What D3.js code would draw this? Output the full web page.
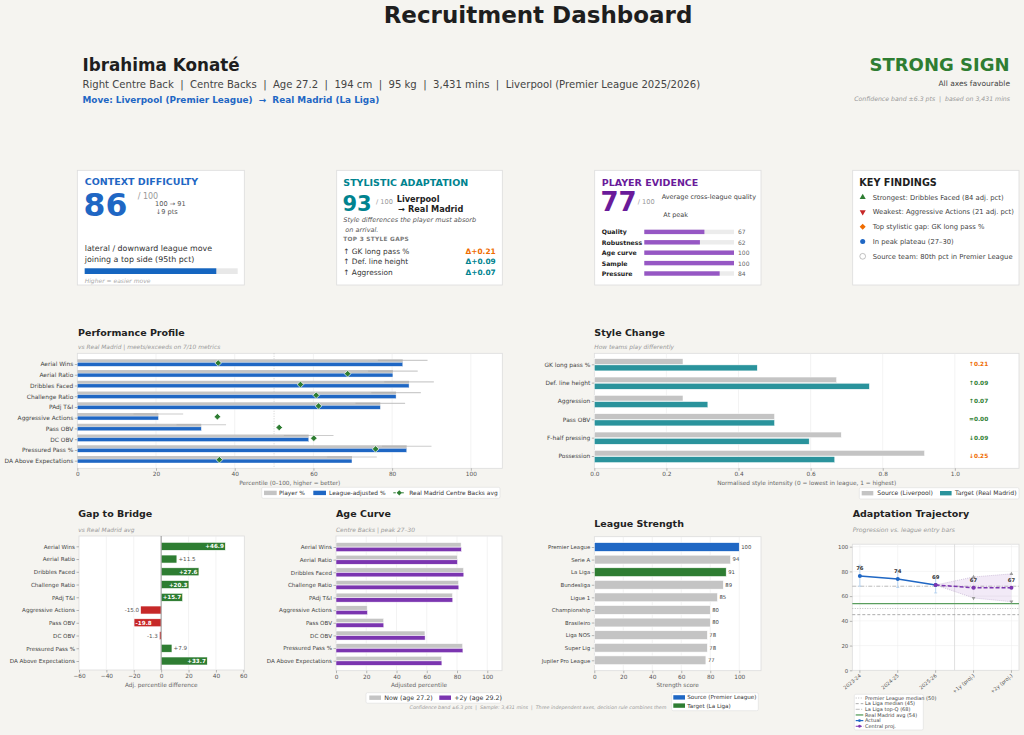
<!DOCTYPE html>
<html>
<head>
<meta charset="utf-8">
<script src="https://cdn.jsdelivr.net/npm/d3@7"></script>
<style>
  body { margin: 0; background: #f5f4f0; }
  svg { display: block; font-family: "DejaVu Sans", sans-serif; }
  text { white-space: pre; }
</style>
</head>
<body>
<div id="dashboard"></div>
<script>
// ---- data ----
var metrics = ["Aerial Wins", "Aerial Ratio", "Dribbles Faced", "Challenge Ratio", "PAdj T&I",
    "Aggressive Actions", "Pass OBV", "DC OBV", "Pressured Pass %", "DA Above Expectations"];
var playerPct = [82.7, 80.2, 84.3, 81.0, 77.0, 20.6, 31.5, 58.8, 83.7, 69.8];
var adjustedPct = [82.7, 80.2, 84.3, 81.0, 77.0, 20.6, 31.5, 58.8, 83.7, 69.8];
var targetAvg = [35.8, 68.7, 56.7, 60.7, 61.3, 35.6, 51.3, 60.1, 75.8, 36.1];
var confBand = 6.3;
var gapValues = [46.9, 11.5, 27.6, 20.3, 15.7, -15.0, -19.8, -1.3, 7.9, 33.7];
var ageNow = [82.7, 80.2, 84.3, 81.0, 77.0, 20.6, 31.5, 58.8, 83.7, 69.8];
var agePlus2 = [82.9, 80.3, 84.5, 81.2, 77.2, 20.8, 31.6, 58.9, 83.9, 70.0];

var styleMetrics = ["GK long pass %", "Def. line height", "Aggression", "Pass OBV", "F-half pressing", "Possession"];
var sourceStyle = [0.246, 0.672, 0.246, 0.500, 0.685, 0.916];
var targetStyle = [0.452, 0.763, 0.315, 0.500, 0.596, 0.667];
var styleDeltaLabels = ["↑0.21", "↑0.09", "↑0.07", "=0.00", "↓0.09", "↓0.25"];
var styleDeltaBig = [true, false, false, false, false, true];

var leagues = ["Premier League", "Serie A", "La Liga", "Bundesliga", "Ligue 1", "Championship",
    "Brasileiro", "Liga NOS", "Super Lig", "Jupiler Pro League"];
var leagueStrength = [100, 94, 91, 89, 85, 80, 80, 78, 78, 77];

var seasons = ["2023-24", "2024-25", "2025-26", "+1y (proj.)", "+2y (proj.)"];
var actualScore = [76.3, 73.8, 69.0];
var actualLow = [68.0, 67.0, 62.6];
var actualHigh = [85.0, 80.8, 75.4];
var projScore = [69.0, 66.8, 66.7];
var projLow = [69.0, 58.5, 55.5];
var projHigh = [69.0, 75.5, 78.0];
var refLines = [
    {label: "Premier League median (50)", value: 50, dash: "1,1.5", color: "#aaa", width: 0.8},
    {label: "La Liga median (45)", value: 45, dash: "3,2", color: "#999", width: 0.8},
    {label: "La Liga top-Q (68)", value: 68, dash: "4,1.5,1,1.5", color: "#aaa", width: 0.8},
    {label: "Real Madrid avg (54)", value: 54, dash: null, color: "#5a9e5e", width: 1.3}
];

var evidenceLabels = ["Quality", "Robustness", "Age curve", "Sample", "Pressure"];
var evidenceValues = [67, 62, 100, 100, 84];

var styleGaps = ["↑ GK long pass %", "↑ Def. line height", "↑ Aggression"];
var styleGapDeltas = ["Δ+0.21", "Δ+0.09", "Δ+0.07"];

var findings = ["Strongest: Dribbles Faced (84 adj. pct)", "Weakest: Aggressive Actions (21 adj. pct)",
    "Top stylistic gap: GK long pass %", "In peak plateau (27–30)", "Source team: 80th pct in Premier League"];

var FONT = "DejaVu Sans";
var BLUE = "#1f67c4", GREEN = "#2e7d32", RED = "#c62828", PURPLE = "#7b35b0",
    TEAL = "#2a939c", GREYBAR = "#c4c4c4", ORANGE = "#ef6c00";

function init() {
    var svg = d3.select("#dashboard").append("svg")
        .attr("width", 1024).attr("height", 735);

    svg.append("rect").attr("width", 1024).attr("height", 735).attr("fill", "#f5f4f0");

    function text(g, x, y, s, size, opts) {
        opts = opts || {};
        return g.append("text").attr("x", x).attr("y", y).text(s)
            .attr("font-size", size)
            .attr("font-family", FONT)
            .attr("font-weight", opts.bold ? "bold" : null)
            .attr("font-style", opts.italic ? "italic" : null)
            .attr("fill", opts.fill || "#222")
            .attr("text-anchor", opts.anchor || "start")
            .attr("letter-spacing", opts.ls || null);
    }

    function frame(x0, y0, x1, y1) {
        svg.append("rect").attr("x", x0).attr("y", y0).attr("width", x1 - x0).attr("height", y1 - y0)
            .attr("fill", "#fff").attr("stroke", "#dcdcdc").attr("stroke-width", 0.8);
    }

    function bottomAxis(scale, y, ticks, fmt) {
        var ax = svg.append("g").attr("transform", "translate(0," + y + ")")
            .call(d3.axisBottom(scale).tickValues(ticks).tickSize(2.5).tickPadding(1.5).tickFormat(fmt));
        ax.select(".domain").remove();
        ax.selectAll("line").attr("stroke", "#888").attr("stroke-width", 0.6);
        ax.selectAll("text").attr("font-size", 5.8).attr("fill", "#555").attr("font-family", FONT);
        return ax;
    }

    function leftAxis(scale, x, size) {
        var ax = svg.append("g").attr("transform", "translate(" + x + ",0)")
            .call(d3.axisLeft(scale).tickSize(2.5).tickPadding(1.5));
        ax.select(".domain").remove();
        ax.selectAll("line").attr("stroke", "#888").attr("stroke-width", 0.6);
        ax.selectAll("text").attr("font-size", size || 5.8).attr("fill", "#444").attr("font-family", FONT);
        return ax;
    }

    function vgrid(scale, ticks, y0, y1) {
        svg.append("g").selectAll("line").data(ticks).enter().append("line")
            .attr("x1", function (d) { return scale(d); }).attr("x2", function (d) { return scale(d); })
            .attr("y1", y0).attr("y2", y1)
            .attr("stroke", "#ebebeb").attr("stroke-width", 0.6);
    }

    function diamond(r) {
        return "M0," + (-r) + "L" + r + ",0L0," + r + "L" + (-r) + ",0Z";
    }

    // ---- header ----
    text(svg, 538, 23, "Recruitment Dashboard", 23, {bold: true, anchor: "middle", fill: "#1e1e1e"});
    text(svg, 82.5, 71, "Ibrahima Konaté", 16.8, {bold: true, fill: "#1e1e1e"});
    text(svg, 82.5, 87.5, "Right Centre Back  |  Centre Backs  |  Age 27.2  |  194 cm  |  95 kg  |  3,431 mins  |  Liverpool (Premier League 2025/2026)", 10.1, {fill: "#444"});
    text(svg, 82.5, 103, "Move: Liverpool (Premier League)  →  Real Madrid (La Liga)", 8.9, {bold: true, fill: BLUE});
    text(svg, 1009.5, 71, "STRONG SIGN", 18, {bold: true, anchor: "end", fill: GREEN});
    text(svg, 1010, 85.5, "All axes favourable", 7.5, {anchor: "end", fill: "#444"});
    text(svg, 1010, 101, "Confidence band ±6.3 pts  |  based on 3,431 mins", 6.2, {anchor: "end", italic: true, fill: "#999"});

    // ---- card 1: context difficulty ----
    frame(77.3, 170.3, 244.3, 285);
    text(svg, 84.7, 184.8, "CONTEXT DIFFICULTY", 9.5, {bold: true, fill: BLUE});
    text(svg, 83.5, 215.5, "86", 31.5, {bold: true, fill: BLUE});
    text(svg, 137.7, 198.5, "/ 100", 8, {fill: "#999"});
    text(svg, 155, 205.5, "100 → 91", 6.6, {fill: "#555"});
    text(svg, 155.7, 213.5, "↓9 pts", 6.6, {fill: "#555"});
    text(svg, 84.7, 251, "lateral / downward league move", 7.9, {fill: "#333"});
    text(svg, 84.7, 262, "joining a top side (95th pct)", 7.9, {fill: "#333"});
    var diffScale = d3.scaleLinear().domain([0, 100]).range([84.7, 237.7]);
    svg.append("rect").attr("x", diffScale(0)).attr("y", 268.3).attr("width", diffScale(100) - diffScale(0))
        .attr("height", 5.7).attr("fill", "#e8e8e8");
    svg.append("rect").attr("x", diffScale(0)).attr("y", 268.3).attr("width", diffScale(86) - diffScale(0))
        .attr("height", 5.7).attr("fill", "#1565c0");
    text(svg, 84.7, 283, "Higher = easier move", 6, {italic: true, fill: "#aaa"});

    // ---- card 2: stylistic adaptation ----
    frame(336.7, 170.3, 502.3, 285);
    text(svg, 343.3, 185.5, "STYLISTIC ADAPTATION", 9.5, {bold: true, fill: "#00838f"});
    text(svg, 342.5, 211, "93", 21, {bold: true, fill: "#00838f"});
    text(svg, 376, 204, "/ 100", 6.6, {fill: "#999"});
    text(svg, 396.7, 201.7, "Liverpool", 8.2, {bold: true, fill: "#1e1e1e"});
    text(svg, 398.3, 211.7, "→ Real Madrid", 8.2, {bold: true, fill: "#1e1e1e"});
    text(svg, 343.3, 222.3, "Style differences the player must absorb", 6.5, {italic: true, fill: "#555"});
    text(svg, 343.3, 231.7, " on arrival.", 6.5, {italic: true, fill: "#555"});
    text(svg, 343.3, 241.3, "TOP 3 STYLE GAPS", 5.8, {bold: true, fill: "#777", ls: 0.3});
    styleGaps.forEach(function (s, i) {
        text(svg, 343.3, 254 + i * 10.3, s, 7.4, {fill: "#333"});
        text(svg, 495.7, 254 + i * 10.3, styleGapDeltas[i], 7.4, {bold: true, anchor: "end", fill: i === 0 ? ORANGE : "#00838f"});
    });

    // ---- card 3: player evidence ----
    frame(594.7, 170.3, 761, 285);
    text(svg, 601.7, 185.5, "PLAYER EVIDENCE", 9.5, {bold: true, fill: "#6a1b9a"});
    text(svg, 600.5, 210.5, "77", 26, {bold: true, fill: "#6a1b9a"});
    text(svg, 637.7, 204, "/ 100", 6.6, {fill: "#999"});
    text(svg, 661.7, 199.3, "Average cross-league quality", 6.5, {fill: "#444"});
    text(svg, 663.3, 217.3, "At peak", 6.5, {fill: "#444"});
    var evScale = d3.scaleLinear().domain([0, 100]).range([644.3, 734]);
    evidenceLabels.forEach(function (s, i) {
        var by = 234.3 + i * 10.4;
        text(svg, 601.7, by, s, 6.2, {bold: true, fill: "#222"});
        svg.append("rect").attr("x", evScale(0)).attr("y", by - 4.6).attr("width", evScale(100) - evScale(0))
            .attr("height", 4.4).attr("fill", "#ececec");
        svg.append("rect").attr("x", evScale(0)).attr("y", by - 4.6).attr("width", evScale(evidenceValues[i]) - evScale(0))
            .attr("height", 4.4).attr("fill", "#9657c4");
        text(svg, 738, by, evidenceValues[i], 6, {fill: "#666"});
    });

    // ---- card 4: key findings ----
    frame(852.7, 170.3, 1019, 285);
    text(svg, 859.3, 186, "KEY FINDINGS", 9.7, {bold: true, fill: "#1e1e1e"});
    var markerPaths = [
        d3.symbol(d3.symbolTriangle, 16)(),
        d3.symbol(d3.symbolTriangle, 16)(),
        diamond(3),
        d3.symbol(d3.symbolCircle, 20)(),
        d3.symbol(d3.symbolCircle, 26)()
    ];
    var markerFill = [GREEN, RED, ORANGE, BLUE, "#fff"];
    findings.forEach(function (s, i) {
        var cy = 197.3 + i * 14.75;
        svg.append("path").attr("d", markerPaths[i])
            .attr("transform", "translate(862.7," + cy + ")" + (i === 1 ? " rotate(180)" : ""))
            .attr("fill", markerFill[i]).attr("stroke", i === 4 ? "#999" : "none").attr("stroke-width", 0.6);
        text(svg, 872.7, cy + 2.3, s, 6.8, {fill: "#444"});
    });

    // ---- performance profile ----
    text(svg, 78, 336, "Performance Profile", 9.5, {bold: true});
    text(svg, 78, 349.3, "vs Real Madrid | meets/exceeds on 7/10 metrics", 5.9, {italic: true, fill: "#999"});
    frame(77.3, 353.3, 502.3, 468.3);
    var px = d3.scaleLinear().domain([0, 108]).range([77.3, 502.3]);
    var py = d3.scalePoint().domain(metrics).range([364, 460.7]);
    vgrid(px, [20, 40, 60, 80, 100], 353.3, 468.3);
    svg.append("line").attr("x1", px(50)).attr("x2", px(50)).attr("y1", 353.3).attr("y2", 468.3)
        .attr("stroke", "#bbb").attr("stroke-width", 0.7).attr("stroke-dasharray", "1,1.5");
    var perf = svg.append("g");
    perf.selectAll(".pbar").data(metrics).enter().append("rect")
        .attr("x", px(0)).attr("y", function (d) { return py(d) - 4.7; })
        .attr("width", function (d, i) { return px(playerPct[i]) - px(0); })
        .attr("height", 6.8).attr("fill", GREYBAR);
    perf.selectAll(".ci").data(metrics).enter().append("line")
        .attr("x1", function (d, i) { return px(playerPct[i] - confBand); })
        .attr("x2", function (d, i) { return px(playerPct[i] + confBand); })
        .attr("y1", function (d) { return py(d) - 3.7; })
        .attr("y2", function (d) { return py(d) - 3.7; })
        .attr("stroke", "#aaa").attr("stroke-opacity", 0.6).attr("stroke-width", 1.2);
    perf.selectAll(".abar").data(metrics).enter().append("rect")
        .attr("x", px(0)).attr("y", function (d) { return py(d) - 1.6; })
        .attr("width", function (d, i) { return px(adjustedPct[i]) - px(0); })
        .attr("height", 3.9).attr("fill", BLUE).attr("stroke", "#fff").attr("stroke-width", 0.4);
    perf.selectAll(".avg").data(metrics).enter().append("path")
        .attr("d", diamond(3.3))
        .attr("transform", function (d, i) { return "translate(" + px(targetAvg[i]) + "," + (py(d) - 1) + ")"; })
        .attr("fill", GREEN).attr("stroke", "#fff").attr("stroke-width", 0.7);
    leftAxis(py, 77.3, 5.9);
    bottomAxis(px, 468.3, [0, 20, 40, 60, 80, 100], d3.format("d"));
    text(svg, 289.8, 485, "Percentile (0–100, higher = better)", 5.8, {anchor: "middle", fill: "#666"});
    // legend
    var lg = svg.append("g");
    lg.append("rect").attr("x", 261.7).attr("y", 487.3).attr("width", 238.3).attr("height", 11)
        .attr("rx", 1.5).attr("fill", "#fff").attr("stroke", "#ddd").attr("stroke-width", 0.6);
    lg.append("rect").attr("x", 264).attr("y", 490.7).attr("width", 12.7).attr("height", 4.4).attr("fill", GREYBAR);
    text(lg, 279, 494.9, "Player %", 5.9, {fill: "#333"});
    lg.append("rect").attr("x", 313.3).attr("y", 490.7).attr("width", 12.7).attr("height", 4.4).attr("fill", BLUE);
    text(lg, 329, 494.9, "League-adjusted %", 5.9, {fill: "#333"});
    lg.append("line").attr("x1", 393.3).attr("x2", 405.3).attr("y1", 492.8).attr("y2", 492.8)
        .attr("stroke", GREEN).attr("stroke-width", 1).attr("stroke-dasharray", "2.5,1.5");
    lg.append("path").attr("d", diamond(2.6)).attr("transform", "translate(399.3,492.8)").attr("fill", GREEN);
    text(lg, 409.3, 494.9, "Real Madrid Centre Backs avg", 5.9, {fill: "#333"});

    // ---- style change ----
    text(svg, 594.3, 336, "Style Change", 9.5, {bold: true});
    text(svg, 594.3, 349.3, "How teams play differently", 5.9, {italic: true, fill: "#999"});
    frame(594.3, 353.3, 1019, 468.3);
    var sx = d3.scaleLinear().domain([0, 1.178]).range([594.3, 1019]);
    var sy = d3.scalePoint().domain(styleMetrics).range([364.3, 456]);
    vgrid(sx, [0.2, 0.4, 0.6, 0.8, 1.0], 353.3, 468.3);
    var sg = svg.append("g");
    sg.selectAll(".src").data(styleMetrics).enter().append("rect")
        .attr("x", sx(0)).attr("y", function (d) { return sy(d) - 5.6; })
        .attr("width", function (d, i) { return sx(sourceStyle[i]) - sx(0); })
        .attr("height", 5.6).attr("fill", GREYBAR).attr("stroke", "#fff").attr("stroke-width", 0.5);
    sg.selectAll(".tgt").data(styleMetrics).enter().append("rect")
        .attr("x", sx(0)).attr("y", function (d) { return sy(d) + 0.6; })
        .attr("width", function (d, i) { return sx(targetStyle[i]) - sx(0); })
        .attr("height", 6).attr("fill", TEAL).attr("stroke", "#fff").attr("stroke-width", 0.5);
    sg.selectAll(".dl").data(styleMetrics).enter().append("text")
        .attr("x", sx(1.066)).attr("y", function (d) { return sy(d) + 2; })
        .attr("text-anchor", "middle").attr("font-size", 5.8).attr("font-weight", "bold")
        .attr("font-family", FONT)
        .attr("fill", function (d, i) { return styleDeltaBig[i] ? ORANGE : GREEN; })
        .text(function (d, i) { return styleDeltaLabels[i]; });
    leftAxis(sy, 594.3, 5.9);
    bottomAxis(sx, 468.3, [0, 0.2, 0.4, 0.6, 0.8, 1.0], d3.format(".1f"));
    text(svg, 806.7, 485, "Normalised style intensity (0 = lowest in league, 1 = highest)", 5.8, {anchor: "middle", fill: "#666"});
    var slg = svg.append("g");
    slg.append("rect").attr("x", 859.3).attr("y", 487.7).attr("width", 159.7).attr("height", 11.3)
        .attr("rx", 1.5).attr("fill", "#fff").attr("stroke", "#ddd").attr("stroke-width", 0.6);
    slg.append("rect").attr("x", 861.7).attr("y", 491).attr("width", 11.6).attr("height", 4.4).attr("fill", GREYBAR);
    text(slg, 877.3, 495.2, "Source (Liverpool)", 6.1, {fill: "#333"});
    slg.append("rect").attr("x", 940).attr("y", 491).attr("width", 11.6).attr("height", 4.4).attr("fill", TEAL);
    text(slg, 955, 495.2, "Target (Real Madrid)", 6.1, {fill: "#333"});

    // ---- gap to bridge ----
    text(svg, 78.3, 516.7, "Gap to Bridge", 9.5, {bold: true});
    text(svg, 78.3, 532.3, "vs Real Madrid avg", 5.9, {italic: true, fill: "#999"});
    frame(79, 536, 244.3, 670);
    var gx = d3.scaleLinear().domain([-60, 60]).range([79, 243.3]);
    var gy = d3.scalePoint().domain(metrics).range([546.3, 661]);
    vgrid(gx, [-40, -20, 20, 40], 536, 670);
    var gg = svg.append("g");
    gg.selectAll("rect").data(metrics).enter().append("rect")
        .attr("x", function (d, i) { return gx(Math.min(0, gapValues[i])); })
        .attr("y", function (d) { return gy(d) - 4; })
        .attr("width", function (d, i) { return Math.abs(gx(gapValues[i]) - gx(0)); })
        .attr("height", 8)
        .attr("fill", function (d, i) { return gapValues[i] >= 0 ? GREEN : RED; })
        .attr("stroke", "#fff").attr("stroke-width", 0.6);
    svg.append("line").attr("x1", gx(0)).attr("x2", gx(0)).attr("y1", 536).attr("y2", 670)
        .attr("stroke", "#888").attr("stroke-width", 0.9);
    gg.selectAll("text").data(metrics).enter().append("text")
        .attr("font-family", FONT).attr("font-size", 5.6)
        .attr("y", function (d) { return gy(d) + 2; })
        .each(function (d, i) {
            var v = gapValues[i], inside = Math.abs(v) > 15.2, t = d3.select(this);
            var label = (v >= 0 ? "+" : "") + v.toFixed(1);
            t.text(label);
            if (inside) {
                t.attr("x", v >= 0 ? gx(v) - 1.5 : gx(v) + 1.5)
                    .attr("text-anchor", v >= 0 ? "end" : "start")
                    .attr("fill", "#fff").attr("font-weight", "bold");
            } else {
                t.attr("x", v >= 0 ? gx(v) + 1.5 : gx(v) - 1.5)
                    .attr("text-anchor", v >= 0 ? "start" : "end")
                    .attr("fill", "#555");
            }
        });
    leftAxis(gy, 79, 5.6);
    bottomAxis(gx, 670, [-60, -40, -20, 0, 20, 40, 60], d3.format("d"));
    text(svg, 161.3, 687, "Adj. percentile difference", 5.8, {anchor: "middle", fill: "#666"});

    // ---- age curve ----
    text(svg, 336, 516.7, "Age Curve", 9.5, {bold: true});
    text(svg, 336, 532.3, "Centre Backs | peak 27–30", 5.9, {italic: true, fill: "#999"});
    frame(336, 536, 502, 670.7);
    var ax = d3.scaleLinear().domain([0, 110]).range([336, 502.4]);
    var ay = d3.scalePoint().domain(metrics).range([547, 660.7]);
    vgrid(ax, [20, 40, 60, 80, 100], 536, 670.7);
    var ag = svg.append("g");
    ag.selectAll(".now").data(metrics).enter().append("rect")
        .attr("x", ax(0)).attr("y", function (d) { return ay(d) - 4.4; })
        .attr("width", function (d, i) { return ax(ageNow[i]) - ax(0); })
        .attr("height", 4.4).attr("fill", GREYBAR).attr("stroke", "#fff").attr("stroke-width", 0.5);
    ag.selectAll(".fut").data(metrics).enter().append("rect")
        .attr("x", ax(0)).attr("y", function (d) { return ay(d) + 0.2; })
        .attr("width", function (d, i) { return ax(agePlus2[i]) - ax(0); })
        .attr("height", 4.4).attr("fill", PURPLE).attr("stroke", "#fff").attr("stroke-width", 0.5);
    leftAxis(ay, 336, 5.6);
    bottomAxis(ax, 670.7, [0, 20, 40, 60, 80, 100], d3.format("d"));
    text(svg, 419, 687, "Adjusted percentile", 5.8, {anchor: "middle", fill: "#666"});
    var alg = svg.append("g");
    alg.append("rect").attr("x", 366).attr("y", 692.7).attr("width", 134.7).attr("height", 10.5)
        .attr("rx", 1.5).attr("fill", "#fff").attr("stroke", "#ddd").attr("stroke-width", 0.6);
    alg.append("rect").attr("x", 369.3).attr("y", 695.5).attr("width", 11.7).attr("height", 4.4).attr("fill", GREYBAR);
    text(alg, 384.3, 699.7, "Now (age 27.2)", 6.3, {fill: "#333"});
    alg.append("rect").attr("x", 439.3).attr("y", 695.5).attr("width", 11.7).attr("height", 4.4).attr("fill", PURPLE);
    text(alg, 454.3, 699.7, "+2y (age 29.2)", 6.3, {fill: "#333"});

    // ---- league strength ----
    text(svg, 594.3, 527, "League Strength", 9.5, {bold: true});
    frame(594.3, 536.7, 761, 670.7);
    var lx = d3.scaleLinear().domain([0, 115]).range([594.3, 761]);
    var ly = d3.scalePoint().domain(leagues).range([547, 660.3]);
    vgrid(lx, [20, 40, 60, 80, 100], 536.7, 670.7);
    var lgS = svg.append("g");
    lgS.selectAll("rect").data(leagues).enter().append("rect")
        .attr("x", lx(0)).attr("y", function (d) { return ly(d) - 4.4; })
        .attr("width", function (d, i) { return lx(leagueStrength[i]) - lx(0); })
        .attr("height", 8.8)
        .attr("fill", function (d) { return d === "Premier League" ? BLUE : d === "La Liga" ? GREEN : GREYBAR; })
        .attr("stroke", "#fff").attr("stroke-width", 0.6);
    lgS.selectAll("text").data(leagues).enter().append("text")
        .attr("x", function (d, i) { return lx(leagueStrength[i]) + 2; })
        .attr("y", function (d) { return ly(d) + 1.8; })
        .attr("font-family", FONT).attr("font-size", 5.3).attr("fill", "#444")
        .text(function (d, i) { return leagueStrength[i]; });
    leftAxis(ly, 594.3, 5.4);
    bottomAxis(lx, 670.7, [0, 20, 40, 60, 80, 100], d3.format("d"));
    text(svg, 677.7, 687, "Strength score", 5.8, {anchor: "middle", fill: "#666"});
    var llg = svg.append("g");
    llg.append("rect").attr("x", 671.7).attr("y", 692.7).attr("width", 86.6).attr("height", 18)
        .attr("rx", 1.5).attr("fill", "#fff").attr("stroke", "#ddd").attr("stroke-width", 0.6);
    llg.append("rect").attr("x", 673.3).attr("y", 695.2).attr("width", 11.7).attr("height", 4.4).attr("fill", BLUE);
    text(llg, 687.3, 699.3, "Source (Premier League)", 5.6, {fill: "#333"});
    llg.append("rect").attr("x", 673.3).attr("y", 703.4).attr("width", 11.7).attr("height", 4.4).attr("fill", GREEN);
    text(llg, 687.3, 707.5, "Target (La Liga)", 5.6, {fill: "#333"});

    // ---- adaptation trajectory ----
    text(svg, 852.7, 517.3, "Adaptation Trajectory", 9.5, {bold: true});
    text(svg, 852.7, 532.3, "Progression vs. league entry bars", 6.1, {italic: true, fill: "#999"});
    frame(852.3, 544.2, 1019, 670.3);
    var tx = d3.scaleLinear().domain([-0.2, 4.2]).range([852.3, 1019]);
    var ty = d3.scaleLinear().domain([0, 102]).range([670.3, 544.2]);
    var tg = svg.append("g");
    tg.selectAll(".hg").data([20, 40, 60, 80, 100]).enter().append("line")
        .attr("x1", 852.3).attr("x2", 1019).attr("y1", ty).attr("y2", ty)
        .attr("stroke", "#efefef").attr("stroke-width", 0.6);
    tg.selectAll(".vg").data(d3.range(seasons.length)).enter().append("line")
        .attr("x1", tx).attr("x2", tx).attr("y1", 544.2).attr("y2", 670.3)
        .attr("stroke", "#efefef").attr("stroke-width", 0.6);
    tg.append("line").attr("x1", tx(2.5)).attr("x2", tx(2.5)).attr("y1", 544.2).attr("y2", 670.3)
        .attr("stroke", "#d8d8d8").attr("stroke-width", 0.8);
    tg.selectAll(".ref").data(refLines).enter().append("line")
        .attr("x1", 852.3).attr("x2", 1019)
        .attr("y1", function (d) { return ty(d.value); }).attr("y2", function (d) { return ty(d.value); })
        .attr("stroke", function (d) { return d.color; })
        .attr("stroke-width", function (d) { return d.width; })
        .attr("stroke-dasharray", function (d) { return d.dash; });
    // projection band
    var bandIdx = [2, 3, 4];
    var band = d3.area()
        .x(function (d, i) { return tx(bandIdx[i]); })
        .y0(function (d, i) { return ty(projLow[i]); })
        .y1(function (d, i) { return ty(projHigh[i]); });
    tg.append("path").attr("d", band(projScore)).attr("fill", PURPLE).attr("fill-opacity", 0.1);
    var edge = function (arr) {
        return d3.line().x(function (d, i) { return tx(bandIdx[i]); }).y(function (d) { return ty(d); })(arr);
    };
    tg.append("path").attr("d", edge(projLow)).attr("fill", "none").attr("stroke", "#b9a6c9")
        .attr("stroke-width", 0.6).attr("stroke-dasharray", "1,1");
    tg.append("path").attr("d", edge(projHigh)).attr("fill", "none").attr("stroke", "#b9a6c9")
        .attr("stroke-width", 0.6).attr("stroke-dasharray", "1,1");
    [1, 2].forEach(function (i) {
        tg.append("path").attr("d", d3.symbol(d3.symbolTriangle, 6)())
            .attr("transform", "translate(" + tx(bandIdx[i]) + "," + ty(projHigh[i]) + ")").attr("fill", "#999");
        tg.append("path").attr("d", d3.symbol(d3.symbolTriangle, 6)())
            .attr("transform", "translate(" + tx(bandIdx[i]) + "," + ty(projLow[i]) + ") rotate(180)").attr("fill", "#999");
    });
    // actual error bars
    actualScore.forEach(function (v, i) {
        tg.append("line").attr("x1", tx(i)).attr("x2", tx(i)).attr("y1", ty(actualLow[i])).attr("y2", ty(actualHigh[i]))
            .attr("stroke", "#a9cbef").attr("stroke-width", 0.8);
        [actualLow[i], actualHigh[i]].forEach(function (e) {
            tg.append("line").attr("x1", tx(i) - 1.5).attr("x2", tx(i) + 1.5).attr("y1", ty(e)).attr("y2", ty(e))
                .attr("stroke", "#a9cbef").attr("stroke-width", 0.8);
        });
    });
    var tline = d3.line().x(function (d, i) { return tx(i); }).y(function (d) { return ty(d); });
    tg.append("path").attr("d", tline(actualScore)).attr("fill", "none").attr("stroke", BLUE).attr("stroke-width", 1.5);
    tg.selectAll(".am").data(actualScore).enter().append("circle")
        .attr("cx", function (d, i) { return tx(i); }).attr("cy", ty).attr("r", 2).attr("fill", BLUE);
    var pline = d3.line().x(function (d, i) { return tx(bandIdx[i]); }).y(function (d) { return ty(d); });
    tg.append("path").attr("d", pline(projScore)).attr("fill", "none").attr("stroke", PURPLE)
        .attr("stroke-width", 1.5).attr("stroke-dasharray", "4,2");
    tg.selectAll(".pm").data(projScore).enter().append("circle")
        .attr("cx", function (d, i) { return tx(bandIdx[i]); }).attr("cy", ty).attr("r", 2).attr("fill", PURPLE);
    actualScore.forEach(function (v, i) {
        text(tg, tx(i), ty(v) - 6, Math.round(v), 5.3, {bold: true, anchor: "middle", fill: "#333"});
    });
    [1, 2].forEach(function (i) {
        text(tg, tx(bandIdx[i]), ty(projScore[i]) - 6, Math.round(projScore[i]), 5.3, {bold: true, anchor: "middle", fill: "#333"});
    });
    var tya = svg.append("g").attr("transform", "translate(852.3,0)")
        .call(d3.axisLeft(ty).tickValues([0, 20, 40, 60, 80, 100]).tickSize(2.5).tickPadding(1.5));
    tya.select(".domain").remove();
    tya.selectAll("line").attr("stroke", "#888").attr("stroke-width", 0.6);
    tya.selectAll("text").attr("font-size", 5.4).attr("fill", "#555").attr("font-family", FONT);
    var txa = svg.append("g").attr("transform", "translate(0,670.3)");
    txa.selectAll("line").data(d3.range(seasons.length)).enter().append("line")
        .attr("x1", tx).attr("x2", tx).attr("y1", 0).attr("y2", 2.5).attr("stroke", "#888").attr("stroke-width", 0.6);
    txa.selectAll("text").data(seasons).enter().append("text")
        .attr("transform", function (d, i) { return "translate(" + (tx(i) + 1.5) + ",6) rotate(-40)"; })
        .attr("text-anchor", "end").attr("font-size", 5).attr("font-family", FONT).attr("fill", "#555")
        .text(function (d) { return d; });
    // trajectory legend
    var tlg = svg.append("g");
    tlg.append("rect").attr("x", 854.3).attr("y", 694.3).attr("width", 69).attr("height", 35.7)
        .attr("rx", 1.5).attr("fill", "#fff").attr("stroke", "#ddd").attr("stroke-width", 0.6);
    var legendRows = refLines.map(function (r) { return {label: r.label, color: r.color, dash: r.dash, width: r.width}; })
        .concat([{label: "Actual", color: BLUE, dash: null, width: 1.2, marker: true},
                 {label: "Central proj.", color: PURPLE, dash: "2.5,1.2", width: 1.2, marker: true}]);
    legendRows.forEach(function (r, i) {
        var yy = 698 + i * 5.65;
        tlg.append("line").attr("x1", 855.7).attr("x2", 863.3).attr("y1", yy).attr("y2", yy)
            .attr("stroke", r.color).attr("stroke-width", r.width).attr("stroke-dasharray", r.dash);
        if (r.marker) tlg.append("circle").attr("cx", 859.5).attr("cy", yy).attr("r", 1.4).attr("fill", r.color);
        text(tlg, 865, yy + 1.7, r.label, 5, {fill: "#444"});
    });

    // ---- footer ----
    text(svg, 538, 708.5, "Confidence band ±6.3 pts  |  Sample: 3,431 mins  |  Three independent axes, decision rule combines them", 4.8, {anchor: "middle", italic: true, fill: "#999"});
}

window.onload = init;
</script>
</body>
</html>
